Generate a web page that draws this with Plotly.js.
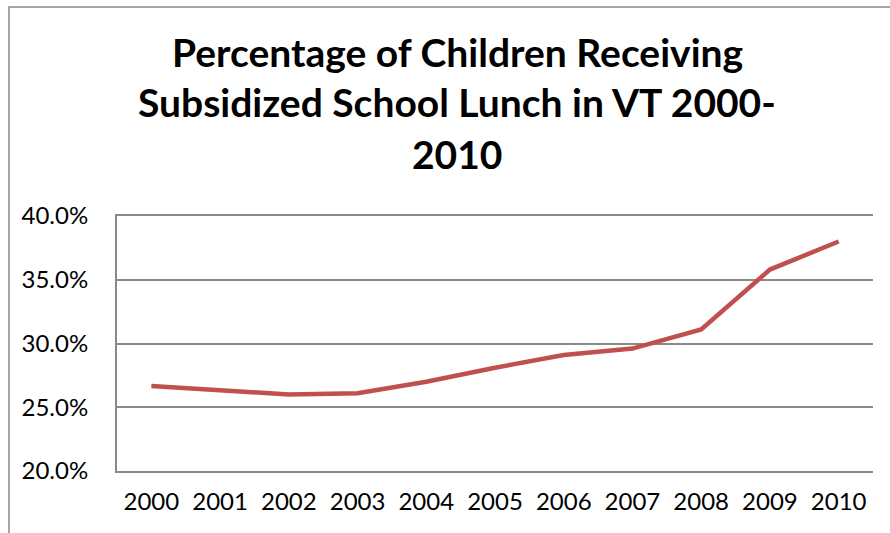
<!DOCTYPE html>
<html>
<head>
<meta charset="utf-8">
<script src="https://cdn.plot.ly/plotly-3.0.1.min.js"></script>
<style>
  html, body { margin: 0; padding: 0; background: #fff; }
  #chart { width: 890px; height: 533px; }
</style>
</head>
<body>
<div id="chart"></div>
<script>
const years = ['2000','2001','2002','2003','2004','2005','2006','2007','2008','2009','2010'];
const percentages = [0.2667, 0.2630, 0.2600, 0.2610, 0.2700, 0.2810, 0.2910, 0.2960, 0.3110, 0.3580, 0.3800];
const titleLines = ['Percentage of Children Receiving', 'Subsidized School Lunch in VT 2000-', '2010'];
const yTicks = [0.20, 0.25, 0.30, 0.35, 0.40];

const FONT = 'Lato, "Open Sans", sans-serif';
const GRID = '#8a8a8a';

const trace = {
  type: 'scatter',
  mode: 'lines',
  x: years,
  y: percentages,
  line: { color: '#C0504D', width: 4.5 },
  hoverinfo: 'skip'
};

const titleY = [1.643, 1.447, 1.243];
const annotations = titleLines.map((t, i) => ({
  text: '<b>' + t + '</b>',
  xref: 'paper', yref: 'paper',
  x: (457 - 117) / 756, y: titleY[i],
  xanchor: 'center', yanchor: 'middle',
  showarrow: false,
  font: { family: FONT, size: 39, color: '#000' }
}));

const layout = {
  width: 890, height: 533,
  margin: { l: 117, r: 17, t: 216, b: 62 },
  paper_bgcolor: '#fff',
  plot_bgcolor: '#fff',
  showlegend: false,
  font: { family: FONT, color: '#000' },
  xaxis: {
    type: 'category',
    range: [-0.5, years.length - 0.5],
    showgrid: false,
    showline: true,
    mirror: true,
    linecolor: GRID,
    linewidth: 2,
    zeroline: false,
    ticks: '',
    ticklabelstandoff: 8,
    tickfont: { family: FONT, size: 24, color: '#000' },
    fixedrange: true
  },
  yaxis: {
    range: [0.2, 0.4],
    tickvals: yTicks,
    tickformat: '.1%',
    showgrid: true,
    gridcolor: GRID,
    gridwidth: 2,
    showline: true,
    linecolor: GRID,
    linewidth: 2,
    zeroline: false,
    ticks: '',
    ticklabelstandoff: 22,
    tickfont: { family: FONT, size: 24, color: '#000' },
    fixedrange: true
  },
  annotations: annotations,
  shapes: [{
    type: 'rect', xref: 'paper', yref: 'paper',
    x0: (9 - 117) / 756, x1: 1.2,
    y0: -0.4, y1: (471 - 7) / 255,
    line: { color: '#878787', width: 1.5 },
    fillcolor: 'rgba(0,0,0,0)',
    layer: 'below'
  }]
};

Plotly.newPlot('chart', [trace], layout, { displayModeBar: false, staticPlot: true });
</script>
</body>
</html>
